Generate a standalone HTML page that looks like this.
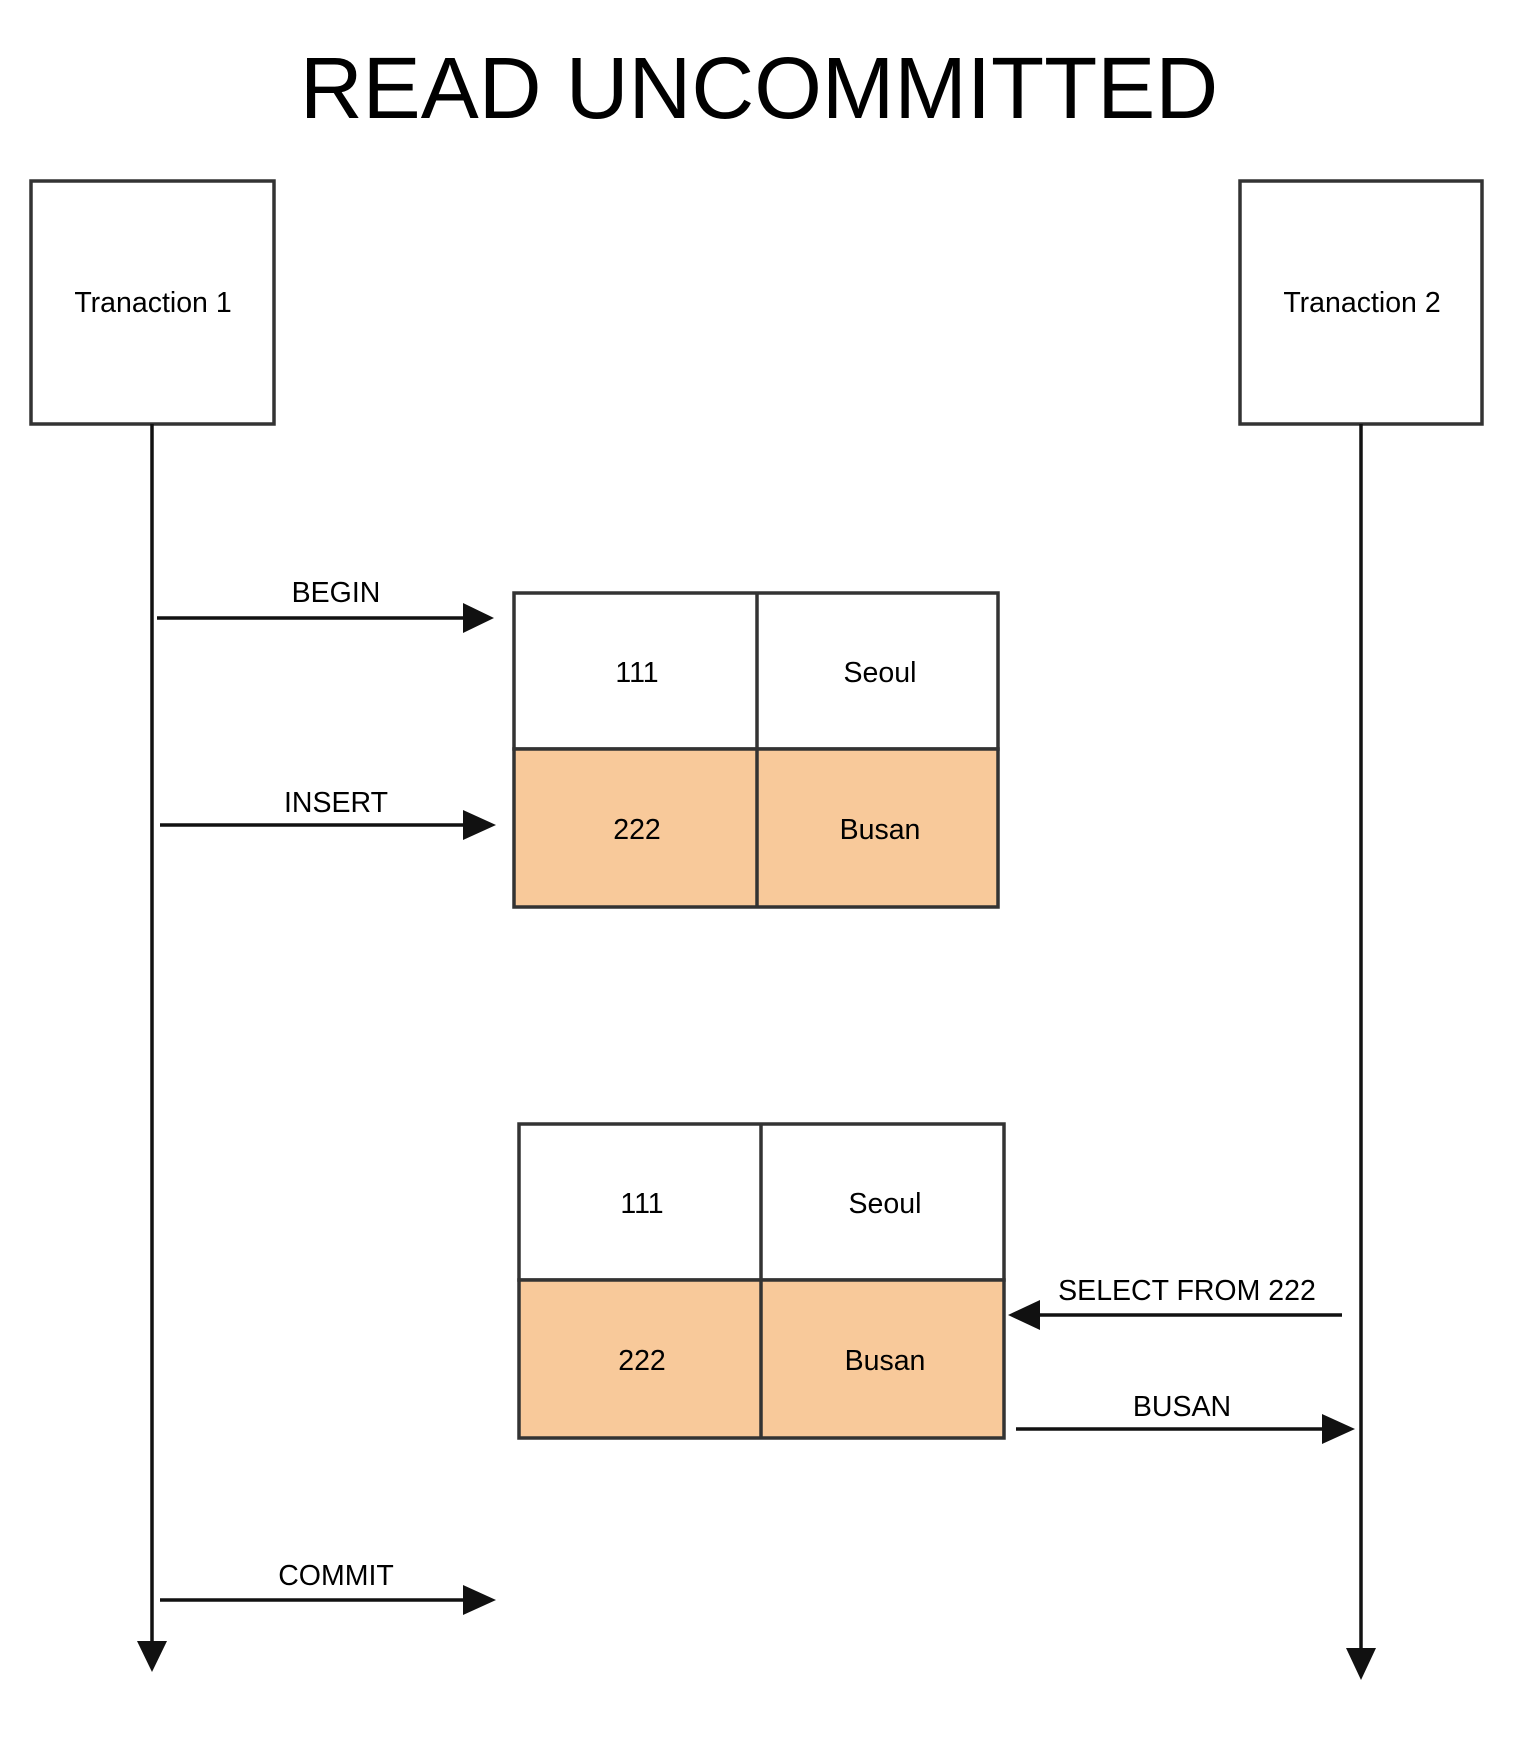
<!DOCTYPE html>
<html><head><style>
body{margin:0;background:#fff;}
svg text{font-family:"Liberation Sans",Arial,sans-serif;fill:#000;}
</style></head><body>
<svg width="1520" height="1746" viewBox="0 0 1520 1746" xmlns="http://www.w3.org/2000/svg">
<text x="759" y="118" font-size="87" text-anchor="middle">READ UNCOMMITTED</text>
<g fill="#fff" stroke="#333" stroke-width="3.5">
<rect x="31" y="181" width="243" height="243"/>
<rect x="1240" y="181" width="242" height="243"/>
</g>
<g font-size="28.5" text-anchor="middle">
<text x="153" y="312">Tranaction 1</text>
<text x="1362" y="312">Tranaction 2</text>
</g>
<g stroke="#111" stroke-width="3.5">
<line x1="152" y1="424" x2="152" y2="1645"/>
<line x1="1361" y1="424" x2="1361" y2="1652"/>
<line x1="157" y1="618" x2="465" y2="618"/>
<line x1="160" y1="825" x2="465" y2="825"/>
<line x1="160" y1="1600" x2="465" y2="1600"/>
<line x1="1342" y1="1315" x2="1035" y2="1315"/>
<line x1="1016" y1="1429" x2="1325" y2="1429"/>
</g>
<g fill="#111">
<polygon points="137,1641 167,1641 152,1672"/>
<polygon points="1346,1648 1376,1648 1361,1680"/>
<polygon points="463,603 494,618 463,633"/>
<polygon points="463,810 496,825 463,840"/>
<polygon points="463,1585 496,1600 463,1615"/>
<polygon points="1040,1300 1008,1315 1040,1330"/>
<polygon points="1322,1414 1355,1429 1322,1444"/>
</g>
<g stroke="#333" stroke-width="3.5">
<rect x="514" y="593" width="484" height="156" fill="#fff"/>
<rect x="514" y="749" width="484" height="158" fill="#f8c99a"/>
<line x1="757" y1="593" x2="757" y2="907"/>
<rect x="519" y="1124" width="485" height="156" fill="#fff"/>
<rect x="519" y="1280" width="485" height="158" fill="#f8c99a"/>
<line x1="761" y1="1124" x2="761" y2="1438"/>
</g>
<g font-size="28.5" text-anchor="middle">
<text x="637" y="682">111</text>
<text x="880" y="682">Seoul</text>
<text x="637" y="839">222</text>
<text x="880" y="839">Busan</text>
<text x="642" y="1213">111</text>
<text x="885" y="1213">Seoul</text>
<text x="642" y="1370">222</text>
<text x="885" y="1370">Busan</text>
<text x="336" y="602">BEGIN</text>
<text x="336" y="812">INSERT</text>
<text x="336" y="1585">COMMIT</text>
<text x="1187" y="1300">SELECT FROM 222</text>
<text x="1182" y="1416">BUSAN</text>
</g>
</svg>
</body></html>
